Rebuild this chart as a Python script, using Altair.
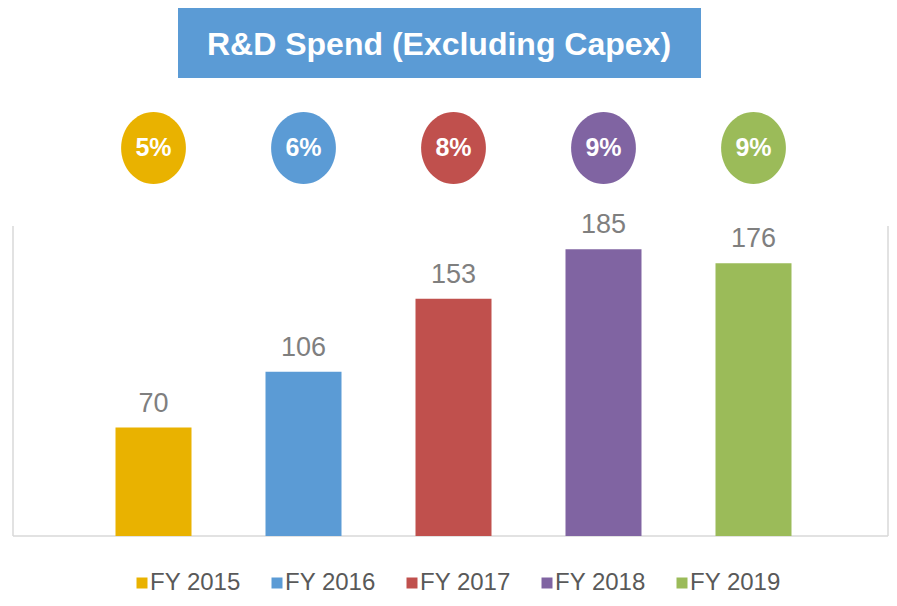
import altair as alt
import pandas as pd

years = ["FY 2015", "FY 2016", "FY 2017", "FY 2018", "FY 2019"]
spend = [70, 106, 153, 185, 176]
share = ["5%", "6%", "8%", "9%", "9%"]
colors = ["#E9B200", "#5B9BD5", "#C0504D", "#8064A2", "#9BBB59"]
title_text = "R&D Spend (Excluding Capex)"

df = pd.DataFrame({"year": years, "spend": spend, "share": share})
tdf = pd.DataFrame({"t": [title_text]})

FONT = "Liberation Sans"
W, H = 876, 310

xenc = alt.X("year:N", sort=years, axis=None,
             scale=alt.Scale(paddingInner=0.4933, paddingOuter=0.6667, align=0.5125))
color_scale = alt.Scale(domain=years, range=colors)

bars = alt.Chart(df).mark_bar().encode(
    x=xenc,
    y=alt.Y("spend:Q", axis=None, scale=alt.Scale(domain=[0, 200], nice=False)),
    color=alt.Color("year:N", scale=color_scale, sort=years,
                    legend=alt.Legend(title=None, orient="none", direction="horizontal",
                                      legendX=117, legendY=345, symbolType="square",
                                      symbolSize=121, symbolStrokeWidth=0,
                                      labelFont=FONT, labelFontSize=24,
                                      labelColor="#595959", columnPadding=24,
                                      symbolOffset=0, labelOffset={"expr": "-4"})),
)

labels = alt.Chart(df).mark_text(font=FONT, fontSize=27, color="#7F7F7F",
                                 baseline="alphabetic", dy=-16).encode(
    x=xenc,
    y=alt.Y("spend:Q"),
    text="spend:Q",
)

ellipse = "M-0.9,0 A0.9,1 0 1,0 0.9,0 A0.9,1 0 1,0 -0.9,0 Z"
circles = alt.Chart(df).mark_point(shape=ellipse, filled=True, opacity=1,
                                   size=5184, strokeWidth=0).encode(
    x=xenc,
    y=alt.value(-78),
    color=alt.Color("year:N", scale=color_scale, legend=None),
)
pct = alt.Chart(df).mark_text(font=FONT, fontSize=25, fontWeight="bold",
                              color="white", baseline="middle").encode(
    x=xenc,
    y=alt.value(-78),
    text="share:N",
)

title_box = alt.Chart(tdf).mark_rect(color="#5B9BD5").encode(
    x=alt.value(165), x2=alt.value(688), y=alt.value(-218), y2=alt.value(-148)
)
title_lbl = alt.Chart(tdf).mark_text(font=FONT, fontSize=32, fontWeight="bold",
                                     color="white", baseline="alphabetic",
                                     align="center").encode(
    x=alt.value(426), y=alt.value(-171), text="t:N"
)

frame_l = alt.Chart(tdf).mark_rule(color="#D9D9D9", strokeWidth=1.5).encode(
    x=alt.value(0), y=alt.value(0), y2=alt.value(H))
frame_r = alt.Chart(tdf).mark_rule(color="#D9D9D9", strokeWidth=1.5).encode(
    x=alt.value(W - 1), y=alt.value(0), y2=alt.value(H))
frame_b = alt.Chart(tdf).mark_rule(color="#D9D9D9", strokeWidth=1.5).encode(
    x=alt.value(0), x2=alt.value(W - 1), y=alt.value(H))

chart = alt.layer(frame_l, frame_r, frame_b, bars, labels, circles, pct,
                  title_box, title_lbl).properties(
    width=W, height=H,
    autosize=alt.AutoSizeParams(type="none"),
    padding={"left": 5, "top": 218, "right": 0, "bottom": 61},
).configure_view(stroke=None).resolve_scale(color="shared")

chart.save("out.html", embed_options={"renderer": "svg", "actions": False})
